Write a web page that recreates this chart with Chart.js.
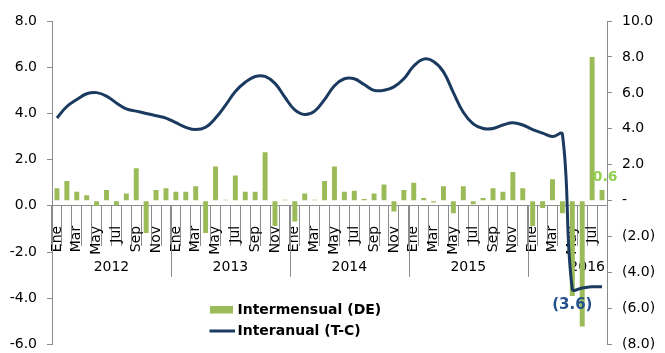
<!DOCTYPE html>
<html>
<head>
<meta charset="utf-8">
<script src="https://cdn.jsdelivr.net/npm/chart.js@4/dist/chart.umd.min.js"></script>
<style>
  html, body { margin: 0; padding: 0; background: #ffffff; }
  #wrap { position: relative; width: 665px; height: 353px; }
</style>
</head>
<body>
<div id="wrap"><canvas id="chart"></canvas></div>
<script>
// ---- data ---------------------------------------------------------------
const years = ['2012', '2013', '2014', '2015', '2016'];
const monthNames = ['Ene', 'Feb', 'Mar', 'Abr', 'May', 'Jun', 'Jul', 'Ago', 'Sep', 'Oct', 'Nov', 'Dic'];
const monthsPerYear = [12, 12, 12, 12, 8];

// Monthly change, seasonally adjusted (right axis)
const intermensual = [
  0.7, 1.1, 0.5, 0.3, -0.3, 0.6, -0.25, 0.4, 1.8, -1.8, 0.6, 0.7,
  0.5, 0.5, 0.8, -1.8, 1.9, 0.05, 1.4, 0.5, 0.5, 2.7, -1.4, 0.05,
  -1.15, 0.4, 0.05, 1.1, 1.9, 0.5, 0.55, 0.1, 0.4, 0.9, -0.6, 0.6,
  1.0, 0.15, -0.1, 0.8, -0.7, 0.8, -0.2, 0.15, 0.7, 0.5, 1.6, 0.7,
  -1.4, -0.4, 1.2, -0.7, -5.3, -7.0, 8.0, 0.6
];

// Year-on-year change, trend-cycle (left axis)
const interanual = [
  3.8, 4.3, 4.6, 4.85, 4.9, 4.75, 4.45, 4.2, 4.1, 4.0, 3.9, 3.8,
  3.6, 3.4, 3.3, 3.4, 3.8, 4.35, 4.95, 5.35, 5.6, 5.6, 5.3, 4.7,
  4.15, 3.95, 4.1, 4.6, 5.2, 5.5, 5.5, 5.25, 5.0, 5.0, 5.15, 5.5,
  6.05, 6.35, 6.25, 5.8, 4.9, 4.05, 3.55, 3.35, 3.35, 3.5, 3.6, 3.5,
  3.3, 3.15, 3.0, 3.1, -3.6, -3.55, -3.5, -3.5
];

const seriesNames = ['Intermensual (DE)', 'Interanual (T-C)'];

// category table: month label + year for each point
const categoryMonths = [];
const categoryYears = [];
years.forEach((y, yi) => {
  for (let m = 0; m < monthsPerYear[yi]; m++) {
    categoryMonths.push(monthNames[m]);
    categoryYears.push(y);
  }
});

// ---- styling ------------------------------------------------------------
const FONT = "'DejaVu Sans', Verdana, sans-serif";
const AXIS_GREY = '#8c8c8c';
const BAR_GREEN = '#9bbb59';
const LINE_NAVY = '#1b3a5f';

Chart.defaults.font.family = FONT;
Chart.defaults.color = '#000000';

// numbers in accounting style: negatives in brackets, zero as a dash
function accounting(v) {
  if (Math.abs(v) < 1e-9) return '-';
  return v < 0 ? '(' + Math.abs(v).toFixed(1) + ')' : v.toFixed(1);
}

// value axes keep a fixed width and no extra end padding
function fixValueAxis(width) {
  return function (scale) {
    scale.width = width;
    scale.paddingTop = 0;
    scale.paddingBottom = 0;
  };
}

// year grouping below the month labels
const yearAxisPlugin = {
  id: 'yearAxis',
  beforeDatasetsDraw(chart) {
    const ctx = chart.ctx;
    const x = chart.scales.x;
    const zeroY = chart.scales.y.getPixelForValue(0);
    const step = x.getPixelForValue(1) - x.getPixelForValue(0);
    ctx.save();
    ctx.strokeStyle = AXIS_GREY;
    ctx.lineWidth = 1;
    ctx.fillStyle = '#000000';
    ctx.font = '14px ' + FONT;
    ctx.textAlign = 'center';
    ctx.textBaseline = 'middle';
    let start = 0;
    years.forEach((y, yi) => {
      const left = x.getPixelForValue(start) - step / 2;
      if (start > 0) {
        const lx = Math.round(left) + 0.5;
        ctx.beginPath();
        ctx.moveTo(lx, zeroY);
        ctx.lineTo(lx, zeroY + 71);
        ctx.stroke();
      }
      // label sits at mid-year (between Jun and Jul)
      const mid = left + step * 6;
      ctx.fillText(y, mid, zeroY + 62);
      start += monthsPerYear[yi];
    });
    ctx.restore();
  }
};

// value labels: lowest year-on-year point and latest monthly bar
const valueLabelPlugin = {
  id: 'valueLabels',
  afterDatasetsDraw(chart) {
    const ctx = chart.ctx;
    ctx.save();
    ctx.textAlign = 'center';
    ctx.textBaseline = 'middle';

    const lineMeta = chart.getDatasetMeta(1);
    let iMin = 0;
    interanual.forEach((v, i) => { if (v < interanual[iMin]) iMin = i; });
    const p = lineMeta.data[iMin];
    ctx.font = 'bold 15px ' + FONT;
    ctx.fillStyle = '#24508c';
    ctx.fillText(accounting(interanual[iMin]), p.x, p.y + 16);

    const barMeta = chart.getDatasetMeta(0);
    const iLast = intermensual.length - 1;
    const b = barMeta.data[iLast];
    ctx.font = 'bold 14px ' + FONT;
    ctx.fillStyle = '#92d050';
    ctx.fillText(accounting(intermensual[iLast]), b.x + 3, b.y - 13);
    ctx.restore();
  }
};

// legend block inside the plot
const legendPlugin = {
  id: 'legendBlock',
  afterDraw(chart) {
    const ctx = chart.ctx;
    const ds = chart.data.datasets;
    ctx.save();
    ctx.font = 'bold 14px ' + FONT;
    ctx.textAlign = 'left';
    ctx.textBaseline = 'middle';
    ctx.fillStyle = ds[0].backgroundColor;
    ctx.fillRect(210, 306, 23, 7.5);
    ctx.fillStyle = '#000000';
    ctx.fillText(ds[0].label, 237.5, 310.5);
    ctx.strokeStyle = ds[1].borderColor;
    ctx.lineWidth = 3;
    ctx.beginPath();
    ctx.moveTo(209.5, 331);
    ctx.lineTo(235, 331);
    ctx.stroke();
    ctx.fillText(ds[1].label, 237.5, 331.5);
    ctx.restore();
  }
};

new Chart(document.getElementById('chart'), {
  type: 'bar',
  data: {
    labels: categoryMonths,
    datasets: [
      {
        type: 'bar',
        label: seriesNames[0],
        data: intermensual,
        yAxisID: 'y1',
        backgroundColor: BAR_GREEN,
        borderWidth: 0,
        barPercentage: 0.5,
        categoryPercentage: 1.0,
        order: 2
      },
      {
        type: 'line',
        label: seriesNames[1],
        data: interanual,
        yAxisID: 'y',
        borderColor: LINE_NAVY,
        backgroundColor: LINE_NAVY,
        borderWidth: 3,
        pointRadius: 0,
        tension: 0.4,
        fill: false,
        order: 1
      }
    ]
  },
  options: {
    responsive: true,
    maintainAspectRatio: false,
    animation: false,
    events: [],
    layout: { padding: { top: 21, bottom: 8.5, left: 0, right: 0 } },
    plugins: {
      legend: { display: false },
      tooltip: { enabled: false }
    },
    scales: {
      x: {
        type: 'category',
        position: { y: 0 },
        offset: true,
        grid: {
          offset: true,
          drawOnChartArea: false,
          drawTicks: true,
          tickLength: 40,
          color: AXIS_GREY,
          lineWidth: 1
        },
        border: { display: true, color: AXIS_GREY, width: 1 },
        ticks: {
          autoSkip: false,
          minRotation: 90,
          maxRotation: 90,
          padding: -20,
          color: '#000000',
          font: { size: 14 },
          callback: (v, i) => (i % 2 === 0 ? categoryMonths[i] : '')
        },
        afterFit(scale) {
          scale.height = 0;
          scale.paddingTop = 0;
          scale.paddingBottom = 0;
          scale.paddingLeft = 0;
          scale.paddingRight = 0;
        }
      },
      y: {
        position: 'left',
        min: -6,
        max: 8,
        ticks: {
          stepSize: 2,
          padding: 10,
          color: '#000000',
          font: { size: 14 },
          callback: v => v.toFixed(1)
        },
        grid: { drawOnChartArea: false, drawTicks: true, tickLength: 5, color: AXIS_GREY },
        border: { display: true, color: AXIS_GREY, width: 1 },
        afterFit: fixValueAxis(52)
      },
      y1: {
        position: 'right',
        min: -8,
        max: 10,
        ticks: {
          stepSize: 2,
          padding: 10,
          color: '#000000',
          font: { size: 14 },
          callback: v => accounting(v)
        },
        grid: { drawOnChartArea: false, drawTicks: true, tickLength: 5, color: AXIS_GREY },
        border: { display: true, color: AXIS_GREY, width: 1 },
        afterFit: fixValueAxis(58)
      }
    }
  },
  plugins: [yearAxisPlugin, valueLabelPlugin, legendPlugin]
});
</script>
</body>
</html>
